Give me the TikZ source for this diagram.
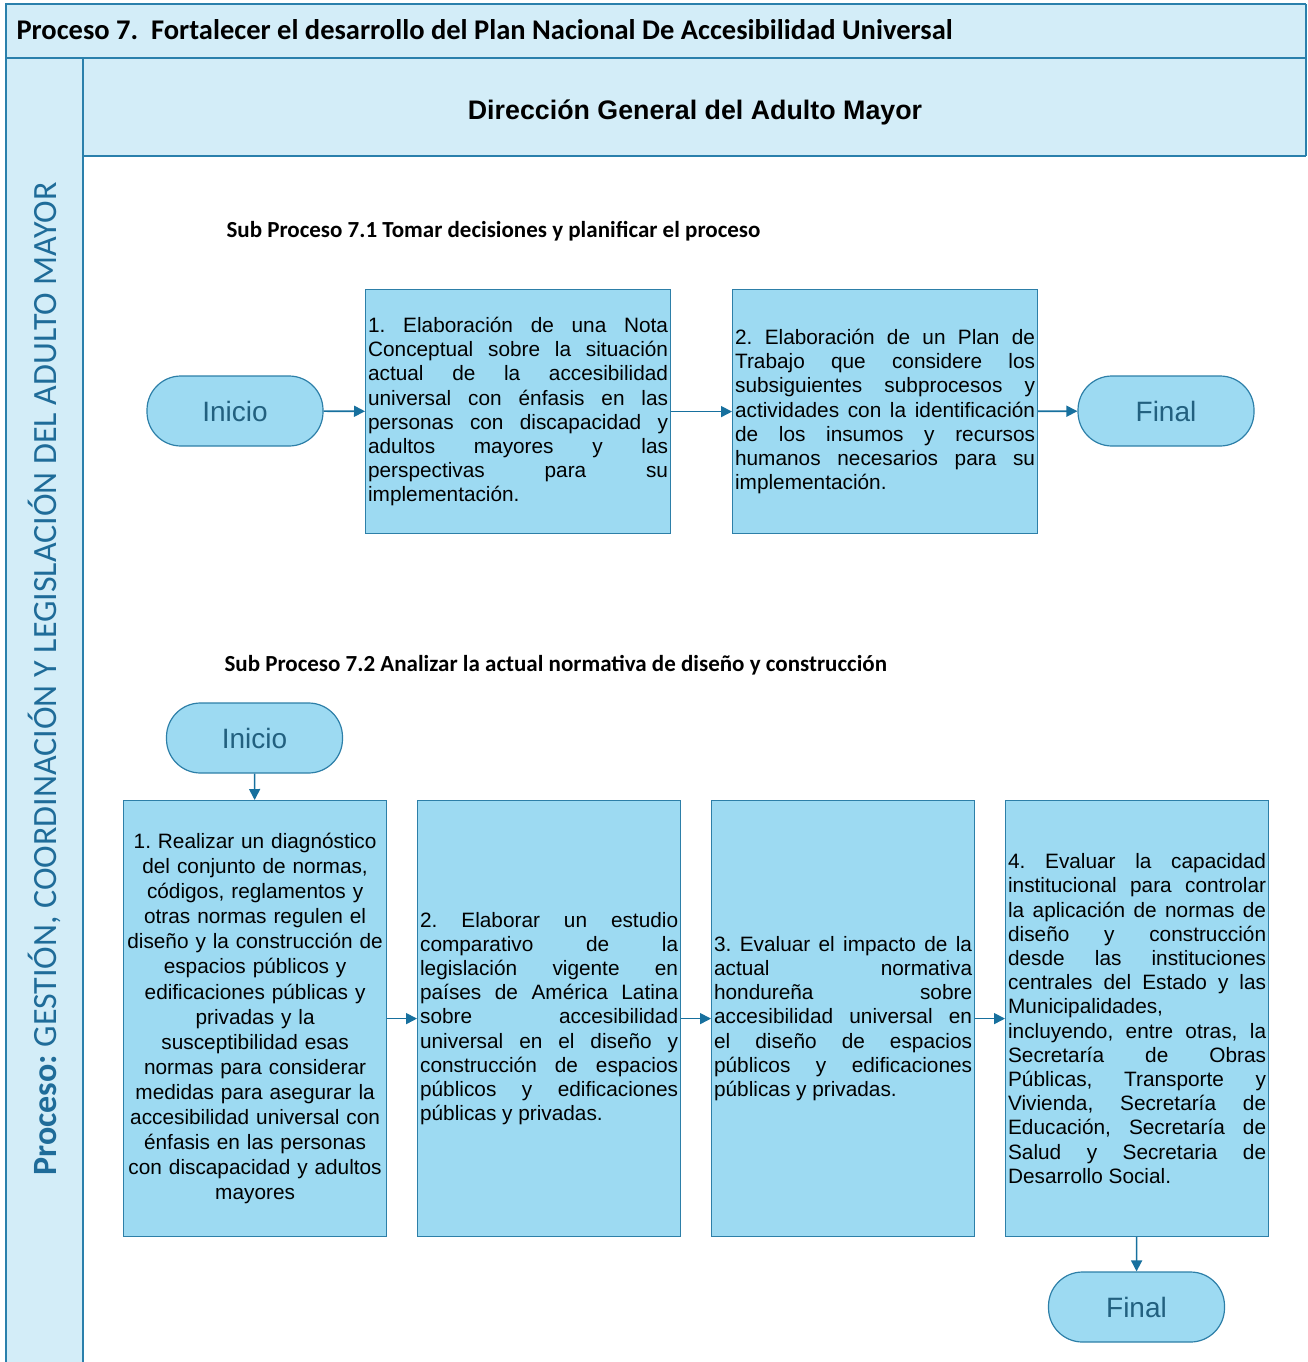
\documentclass[tikz,border=0pt]{standalone}
\usepackage{fontspec}
\setmainfont{Liberation Sans}
\newfontfamily\calibri{Carlito}
\usetikzlibrary{arrows.meta,positioning}
\definecolor{lanefill}{HTML}{D3EDF8}
\definecolor{laneline}{HTML}{2A80AC}
\definecolor{boxfill}{HTML}{9DDAF2}
\definecolor{boxline}{HTML}{2D7FA8}
\definecolor{flowline}{HTML}{17709E}
\definecolor{termtext}{HTML}{22607F}
\definecolor{lanetext}{HTML}{1F6C99}
\tolerance=10000
\hyphenpenalty=10000
\hbadness=10000
\frenchspacing

\begin{document}
\begin{tikzpicture}[x=1pt,y=-1pt,
  tarea/.style={draw=boxline, fill=boxfill, line width=1.2pt, inner xsep=2.5pt, inner ysep=0pt,
    font=\fontsize{20.8}{24.2}\selectfont, align=justify},
  terminal/.style={draw=boxline, fill=boxfill, line width=1.2pt, rounded corners=34pt,
    minimum width=176pt, minimum height=70pt, font=\fontsize{28}{32}\selectfont, text=termtext},
  flecha/.style={draw=flowline, line width=1.6pt, -{Triangle[length=11pt,width=11pt]}},
  subtitulo/.style={anchor=west, font=\calibri\bfseries\fontsize{23}{27}\selectfont}]
  \useasboundingbox (0,0) rectangle (1307,1362);

  % marco del proceso
  \fill[lanefill] (6,4) rectangle (1306,58);
  \fill[lanefill] (6,58) rectangle (83,1362);
  \fill[lanefill] (83,58) rectangle (1306,156);
  \draw[laneline, line width=2pt] (1306,4) -- (6,4) -- (6,1362);
  \draw[laneline, line width=2pt] (6,58) -- (1306,58);
  \draw[laneline, line width=2pt] (83,58) -- (83,1362);
  \draw[laneline, line width=2pt] (83,156) -- (1306,156);
  \draw[laneline, line width=2pt] (1306,4) -- (1306,156);

  \node[anchor=west, font=\calibri\bfseries\fontsize{28.5}{32}\selectfont] (titulo) at (13,30)
    {Proceso 7.\ \ Fortalecer el desarrollo del Plan Nacional De Accesibilidad Universal};
  \node[font=\bfseries\fontsize{26.8}{30}\selectfont] (direccion) at (695,112) {Dirección General del Adulto Mayor};
  \node[rotate=90, text=lanetext, font=\calibri\fontsize{34}{38}\selectfont] (proceso) at (44,679)
    {\textbf{Proceso:} GESTIÓN, COORDINACIÓN Y LEGISLACIÓN DEL ADULTO MAYOR};

  % Sub proceso 7.1
  \node[subtitulo] (sub71) at (223,231) {Sub Proceso 7.1 Tomar decisiones y planificar el proceso};
  \node[terminal] (inicioA) at (235,411) {Inicio};
  \node[tarea, anchor=north west, text width=300pt, minimum height=244pt] (notaA) at (365,289)
    {1. Elaboración de una Nota\linebreak Conceptual sobre la situación\linebreak actual de la accesibilidad\linebreak
     universal con énfasis en las\linebreak personas con discapacidad y\linebreak adultos mayores y las\linebreak
     perspectivas para su\linebreak implementación.};
  \node[tarea, anchor=north west, text width=300pt, minimum height=244pt] (planA) at (732,289)
    {2. Elaboración de un Plan de\linebreak Trabajo que considere los\linebreak subsiguientes subprocesos y\linebreak
     actividades con la identificación\linebreak de los insumos y recursos\linebreak humanos necesarios para su\linebreak
     implementación.};
  \node[terminal] (finalA) at (1166,411) {Final};
  \draw[flecha] (inicioA) -- (notaA);
  \draw[flecha] (notaA) -- (planA);
  \draw[flecha] (planA) -- (finalA);

  % Sub proceso 7.2
  \node[subtitulo] (sub72) at (221,665) {Sub Proceso 7.2 Analizar la actual normativa de diseño y construcción};
  \node[terminal] (inicioB) at (254.5,738) {Inicio};
  \node[tarea, anchor=north west, text width=258pt, minimum height=436pt, align=center,
    font=\fontsize{20.8}{25.1}\selectfont] (diagB) at (123,800)
    {1. Realizar un diagnóstico\\ del conjunto de normas,\\ códigos, reglamentos y\\ otras normas regulen el\\
     diseño y la construcción de\\ espacios públicos y\\ edificaciones públicas y\\ privadas y la\\
     susceptibilidad esas\\ normas para considerar\\ medidas para asegurar la\\ accesibilidad universal con\\
     énfasis en las personas\\ con discapacidad y adultos\\ mayores};
  \node[tarea, anchor=north west, text width=258pt, minimum height=436pt] (compB) at (417,800)
    {2. Elaborar un estudio\linebreak comparativo de la\linebreak legislación vigente en\linebreak
     países de América Latina\linebreak sobre accesibilidad\linebreak universal en el diseño y\linebreak
     construcción de espacios\linebreak públicos y edificaciones\linebreak públicas y privadas.};
  \node[tarea, anchor=north west, text width=258pt, minimum height=436pt] (impB) at (711,800)
    {3. Evaluar el impacto de la\linebreak actual normativa\linebreak hondureña sobre\linebreak
     accesibilidad universal en\linebreak el diseño de espacios\linebreak públicos y edificaciones\linebreak
     públicas y privadas.};
  \node[tarea, anchor=north west, text width=258pt, minimum height=436pt] (capB) at (1005,800)
    {4. Evaluar la capacidad\linebreak institucional para controlar\linebreak la aplicación de normas de\linebreak
     diseño y construcción\linebreak desde las instituciones\linebreak centrales del Estado y las\linebreak
     Municipalidades,\newline incluyendo, entre otras, la\linebreak Secretaría de Obras\linebreak
     Públicas, Transporte y\linebreak Vivienda, Secretaría de\linebreak Educación, Secretaría de\linebreak
     Salud y Secretaria de\linebreak Desarrollo Social.};
  \node[terminal] (finalB) at (1136.5,1307) {Final};
  \draw[flecha] (inicioB) -- (diagB);
  \draw[flecha] (diagB) -- (compB);
  \draw[flecha] (compB) -- (impB);
  \draw[flecha] (impB) -- (capB);
  \draw[flecha] (capB) -- (finalB);
\end{tikzpicture}
\end{document}
